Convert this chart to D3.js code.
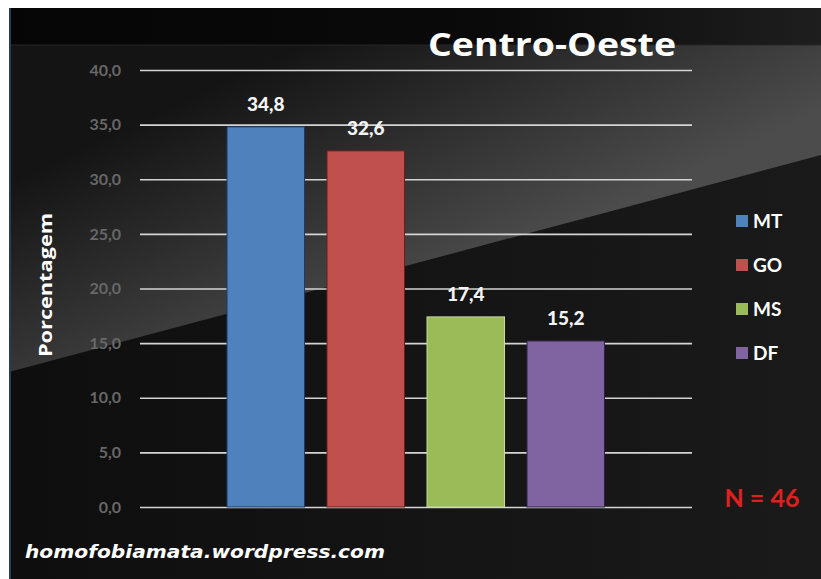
<!DOCTYPE html>
<html><head><meta charset="utf-8">
<script src="https://cdn.jsdelivr.net/npm/d3@7"></script>
<style>html,body{margin:0;padding:0;background:#fff;}svg{display:block;}</style>
</head><body>
<script>
const categories = ["MT", "GO", "MS", "DF"];
const values = [34.8, 32.6, 17.4, 15.2];
const colors = ["#4f81bd", "#c0504d", "#9bbb59", "#8064a2"];
const borders = ["#1f3a66", "#6a1e1c", "#c9d9a8", "#2e2240"];
const yTicks = [0, 5, 10, 15, 20, 25, 30, 35, 40];
const title = "Centro-Oeste";
const yLabel = "Porcentagem";
const note = "N = 46";
const footer = "homofobiamata.wordpress.com";

const W = 821, H = 579;
const svg = d3.select("body").append("svg").attr("width", W).attr("height", H);
const defs = svg.append("defs");

const gTop = defs.append("linearGradient").attr("id", "gTop").attr("gradientUnits", "userSpaceOnUse")
  .attr("x1", 300).attr("y1", 45).attr("x2", 420).attr("y2", 300);
gTop.append("stop").attr("offset", "0%").attr("stop-color", "#141414");
gTop.append("stop").attr("offset", "100%").attr("stop-color", "#4c4c4c");
const gBand = defs.append("linearGradient").attr("id", "gBand").attr("x1", 0).attr("y1", 0).attr("x2", 1).attr("y2", 0);
gBand.append("stop").attr("offset", "0%").attr("stop-color", "#050505");
gBand.append("stop").attr("offset", "60%").attr("stop-color", "#0a0a0a");
gBand.append("stop").attr("offset", "100%").attr("stop-color", "#1e1e1e");
const gBot = defs.append("linearGradient").attr("id", "gBot").attr("x1", 0).attr("y1", 0).attr("x2", 1).attr("y2", 0);
gBot.append("stop").attr("offset", "0%").attr("stop-color", "#0e0e0e");
gBot.append("stop").attr("offset", "100%").attr("stop-color", "#1a1a1a");

svg.append("rect").attr("x", 9).attr("y", 8).attr("width", W - 9).attr("height", H - 8).attr("fill", "url(#gBot)");
svg.append("path").attr("d", `M9,45 L${W},45 L${W},155 L9,372 Z`).attr("fill", "url(#gTop)");
svg.append("rect").attr("x", 9).attr("y", 8).attr("width", W - 9).attr("height", 37).attr("fill", "url(#gBand)");
svg.append("rect").attr("x", 9).attr("y", 8).attr("width", 2).attr("height", H - 8).attr("fill", "#2a3a5a");
svg.append("line").attr("x1", 11).attr("x2", W).attr("y1", 45).attr("y2", 45).attr("stroke", "#262626").attr("stroke-width", 1);

const y = d3.scaleLinear().domain([0, 40]).range([507, 70]);
const x = d3.scaleBand().domain(categories).range([215.75, 615.75]).paddingInner(0.225).paddingOuter(0.1125);

const yAxis = d3.axisLeft(y).tickValues(yTicks).tickSize(-(692 - 140)).tickPadding(19)
  .tickFormat(d => d3.format(".1f")(d).replace(".", ","));
const ga = svg.append("g").attr("transform", "translate(140,0)").call(yAxis);
ga.select(".domain").remove();
ga.selectAll(".tick line").attr("stroke", "#d4d4d4").attr("stroke-width", 1.6);
ga.selectAll(".tick text").attr("fill", "#686868").attr("font-family", "Lato, sans-serif")
  .attr("font-weight", "bold").attr("font-size", 16);

const data = categories.map((c, i) => ({c, v: values[i], col: colors[i], b: borders[i]}));
svg.append("g").selectAll("rect").data(data).join("rect")
  .attr("x", d => x(d.c)).attr("y", d => y(d.v))
  .attr("width", x.bandwidth()).attr("height", d => y(0) - y(d.v))
  .attr("fill", d => d.col).attr("stroke", d => d.b).attr("stroke-width", 1);

svg.append("g").selectAll("text").data(data).join("text")
  .attr("x", d => x(d.c) + x.bandwidth() / 2).attr("y", d => y(d.v) - 16)
  .attr("text-anchor", "middle").attr("fill", "#f4f4f4")
  .attr("font-family", "Lato, sans-serif").attr("font-weight", "900").attr("font-size", 19)
  .text(d => d3.format(".1f")(d.v).replace(".", ","));

svg.append("text").attr("x", 428).attr("y", 56)
  .attr("fill", "#ffffff").attr("font-family", "'Open Sans', sans-serif").attr("font-weight", "bold")
  .attr("font-size", 32).attr("textLength", 248).attr("lengthAdjust", "spacingAndGlyphs").text(title);

svg.append("text").attr("transform", "translate(52,285) rotate(-90)").attr("text-anchor", "middle")
  .attr("fill", "#ffffff").attr("font-family", "'Open Sans', sans-serif").attr("font-weight", "bold")
  .attr("font-size", 18).attr("textLength", 144).attr("lengthAdjust", "spacingAndGlyphs").text(yLabel);

const leg = svg.append("g").selectAll("g").data(data).join("g")
  .attr("transform", (d, i) => `translate(736,${221 + i * 44})`);
leg.append("rect").attr("x", 0).attr("y", -6).attr("width", 12).attr("height", 12).attr("fill", d => d.col);
leg.append("text").attr("x", 17).attr("y", 7).attr("fill", "#ffffff")
  .attr("font-family", "Lato, sans-serif").attr("font-weight", "bold").attr("font-size", 19).text(d => d.c);

svg.append("text").attr("x", 762).attr("y", 507).attr("text-anchor", "middle")
  .attr("fill", "#e0201f").attr("font-family", "Lato, sans-serif").attr("font-weight", "bold")
  .attr("font-size", 25).text(note);

svg.append("text").attr("x", 25).attr("y", 558)
  .attr("fill", "#ffffff").attr("font-family", "'DejaVu Sans', sans-serif").attr("font-weight", "bold")
  .attr("font-style", "italic").attr("font-size", 18).attr("textLength", 360).attr("lengthAdjust", "spacingAndGlyphs").text(footer);
</script>
</body></html>
